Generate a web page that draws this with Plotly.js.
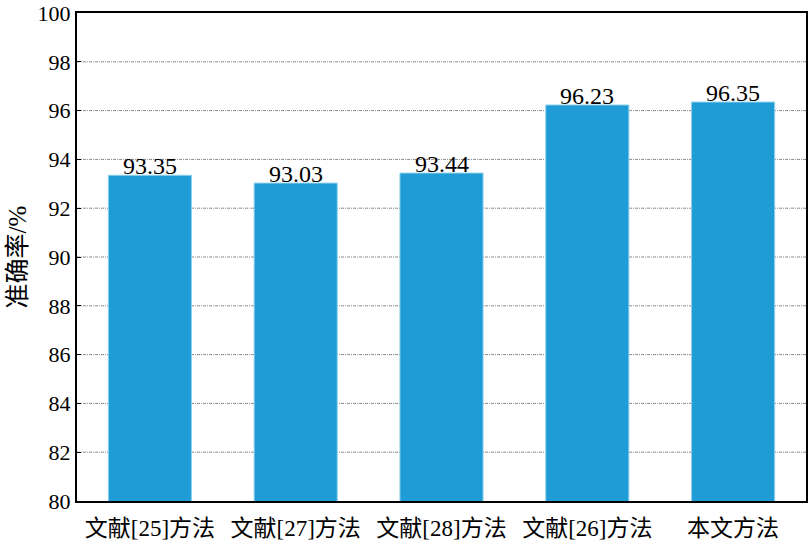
<!DOCTYPE html>
<html><head><meta charset="utf-8">
<script src="https://cdn.plot.ly/plotly-3.0.1.min.js"></script>
<style>html,body{margin:0;padding:0;background:#fff}#chart{width:811px;height:544px}</style>
</head><body><div id="chart"></div>
<script>
const categories = ["文献[25]方法", "文献[27]方法", "文献[28]方法", "文献[26]方法", "本文方法"];
const accuracy = [93.35, 93.03, 93.44, 96.23, 96.35];
const tickVals = [80, 82, 84, 86, 88, 90, 92, 94, 96, 98, 100];
const gridVals = [82, 84, 86, 88, 90, 92, 94, 96, 98];

const FONT = "Liberation Serif, Times New Roman, Noto Sans CJK SC, serif";

const shapes = gridVals.map(v => ({
  type: 'line', xref: 'paper', yref: 'y', x0: 0, x1: 1, y0: v, y1: v,
  line: {color: '#8a8a8a', width: 1, dash: '3px,1px,1px,1px'}, layer: 'below'
}));

const annotations = categories.map((c, i) => ({
  x: c, y: accuracy[i], xref: 'x', yref: 'y', text: accuracy[i].toFixed(2),
  showarrow: false, yanchor: 'bottom', yshift: -6,
  font: {family: FONT, size: 24, color: '#000'}
}));

Plotly.newPlot('chart', [{
  type: 'bar', x: categories, y: accuracy, width: 0.57,
  marker: {color: '#1f9cd6', line: {color: '#8fd0ee', width: 1}},
  hoverinfo: 'none'
}], {
  width: 811, height: 544,
  margin: {l: 77, r: 5, t: 13, b: 43},
  paper_bgcolor: '#fff', plot_bgcolor: 'rgba(0,0,0,0)',
  showlegend: false,
  font: {family: FONT, size: 21, color: '#000'},
  xaxis: {
    type: 'category', showgrid: false, zeroline: false,
    showline: true, linecolor: '#000', linewidth: 2, mirror: true,
    ticks: '', ticklabelstandoff: 5, tickfont: {family: FONT, size: 23}, range: [-0.5, 4.5]
  },
  yaxis: {
    range: [80, 100], tickvals: tickVals, showgrid: false, zeroline: false,
    showline: true, linecolor: '#000', linewidth: 2, mirror: true,
    ticks: 'inside', ticklen: 4, tickcolor: '#000',
    tickfont: {family: FONT, size: 22},
    title: {text: '准确率/%', font: {family: FONT, size: 25}, standoff: 4}
  },
  shapes: shapes,
  annotations: annotations
}, {staticPlot: true});
</script></body></html>
